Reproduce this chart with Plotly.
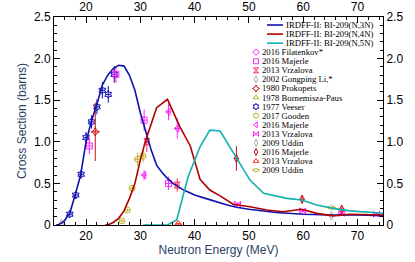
import plotly.graph_objects as go

# ---------------- evaluated curves (IRDFF-II) ----------------
e3 = [14.5, 15, 16, 17, 18, 19, 20, 21, 22, 23, 24, 25, 26, 27, 28, 29, 30, 31, 32, 33, 34, 35, 36, 38, 40, 42, 44, 46, 48, 50, 55, 60, 65, 70, 75]
s3 = [0.0, 0.005, 0.05, 0.14, 0.36, 0.60, 1.0, 1.25, 1.45, 1.68, 1.80, 1.88, 1.92, 1.91, 1.80, 1.62, 1.35, 1.12, 0.90, 0.72, 0.63, 0.56, 0.50, 0.42, 0.36, 0.32, 0.28, 0.24, 0.21, 0.19, 0.15, 0.13, 0.12, 0.12, 0.11]
e4 = [23.5, 24, 25, 26, 27, 28, 29, 30, 31, 32, 33, 35, 37.3, 39.2, 41, 42.8, 44.7, 47.1, 50.2, 53.3, 56.3, 59.7, 62.5, 65.5, 68.6, 75]
s4 = [0.0, 0.0, 0.03, 0.08, 0.17, 0.32, 0.50, 0.78, 1.02, 1.22, 1.41, 1.51, 1.18, 0.95, 0.55, 0.42, 0.35, 0.25, 0.22, 0.18, 0.16, 0.19, 0.14, 0.11, 0.13, 0.12]
e5 = [30.5, 35, 36.7, 38.8, 41, 42.8, 44.7, 47.7, 50.2, 52.7, 57, 59.7, 62.5, 65.5, 68.6, 75]
s5 = [0.0, 0.0, 0.06, 0.58, 0.94, 1.14, 1.13, 0.80, 0.54, 0.38, 0.32, 0.30, 0.24, 0.20, 0.17, 0.14]

# ---------------- experimental data ----------------
veeser_e = [17.0, 18.1, 19.1, 20.0, 21.0, 22.0, 23.0, 24.1, 25.2]
veeser_s = [0.13, 0.36, 0.61, 1.05, 1.24, 1.42, 1.62, 1.57, 1.81]
veeser_ds = [0.03, 0.04, 0.05, 0.07, 0.08, 0.09, 0.10, 0.10, 0.10]

majerle3_e = [20.6, 25.5, 30.7, 35.2]
majerle3_s = [0.95, 1.81, 1.26, 0.50]
majerle3_ds = [0.10, 0.10, 0.13, 0.08]

prokopets_e = [21.7]
prokopets_s = [1.12]
prokopets_ds = [0.35]

vrzalova3_e = [31.2, 36.8]
vrzalova3_s = [1.00, 0.48]
vrzalova3_ds = [0.12, 0.08]

gongping_e = [15.5]
gongping_s = [0.02]
gongping_ds = [0.01]

gooden_e = [26.6, 27.6, 28.5, 29.5, 30.5]
gooden_s = [0.05, 0.18, 0.44, 0.79, 0.83]
gooden_ds = [0.02, 0.02, 0.03, 0.08, 0.08]

majerle4_e = [30.7, 35.2, 36.8]
majerle4_s = [0.60, 1.36, 1.16]
majerle4_ds = [0.06, 0.10, 0.12]

vrzalova4_e = [47.9, 59.9, 67.1, 73.5]
vrzalova4_s = [0.25, 0.17, 0.14, 0.13]
vrzalova4_ds = [0.02, 0.02, 0.02, 0.02]

uddin4_e = [65.2]
uddin4_s = [0.11]

majerle5_e = [47.7, 59.8, 67.1]
majerle5_s = [0.80, 0.31, 0.19]
majerle5_ds = [0.15, 0.05, 0.03]

vrzalova5_e = [37.0]
vrzalova5_s = [0.02]

uddin5_e = [65.2]
uddin5_s = [0.21]

legend_lines = ["IRDFF-II: BI-209(N,3N)", "IRDFF-II: BI-209(N,4N)", "IRDFF-II: BI-209(N,5N)"]
legend_marks = ["2016 Filatenkov*", "2016 Majerle", "2013 Vrzalova", "2002 Gongping Li,*",
                "1980 Prokopets", "1978 Bornemisza-Paus", "1977 Veeser", "2017 Gooden",
                "2016 Majerle", "2013 Vrzalova", "2009 Uddin", "2016 Majerle",
                "2013 Vrzalova", "2009 Uddin"]

BLUE = "#1010b0"
RED = "#b00000"
CYAN = "#10b0b0"
MAG = "#ff22ff"
PINK = "#ff2255"
GRAY = "#aaaaaa"
OLIVE = "#b8b020"
PRED = "#cc1010"

mark_style = [
    ("diamond-open", MAG), ("square-open", MAG), ("hourglass-open", PINK), ("diamond-tall-open", GRAY),
    ("star-diamond-open", PRED), ("triangle-up-open", OLIVE), ("hexagram-open", BLUE), ("circle-open", OLIVE),
    ("triangle-left-open", MAG), ("bowtie-open", MAG), ("diamond-tall-open", GRAY), ("diamond-tall-open", PRED),
    ("triangle-up-open", "#ff2020"), ("diamond-wide-open", OLIVE),
]

fig = go.Figure()

XR = [14.1, 74.7]
YR = [0, 2.5]


def dataset(ex, sy, ds, sym, col, dx=0.5):
    kw = {}
    if ds is not None:
        kw["error_y"] = dict(type="data", array=ds, color=col, thickness=1, width=0)
    kw["error_x"] = dict(type="constant", value=dx, color=col, thickness=1, width=0)
    fig.add_trace(go.Scatter(x=ex, y=sy, mode="markers",
                             marker=dict(symbol=sym, color=col, size=6, line=dict(width=1, color=col)),
                             showlegend=False, **kw))


dataset(gongping_e, gongping_s, gongping_ds, "diamond-tall-open", GRAY)
dataset(veeser_e, veeser_s, veeser_ds, "hexagram-open", BLUE)
dataset(majerle3_e, majerle3_s, majerle3_ds, "square-open", MAG)
dataset(prokopets_e, prokopets_s, prokopets_ds, "star-diamond-open", PRED)
dataset(vrzalova3_e, vrzalova3_s, vrzalova3_ds, "hourglass-open", PINK)
dataset(gooden_e, gooden_s, gooden_ds, "circle-open", OLIVE)
dataset(majerle4_e, majerle4_s, majerle4_ds, "triangle-left-open", MAG)
dataset(vrzalova4_e, vrzalova4_s, vrzalova4_ds, "bowtie-open", MAG)
dataset(uddin4_e, uddin4_s, None, "diamond-tall-open", GRAY)
dataset(majerle5_e, majerle5_s, majerle5_ds, "diamond-tall-open", PRED)
dataset(vrzalova5_e, vrzalova5_s, None, "triangle-up-open", "#ff2020")
dataset(uddin5_e, uddin5_s, None, "diamond-wide-open", OLIVE)

for ex, sy, col in [(e3, s3, BLUE), (e4, s4, RED), (e5, s5, CYAN)]:
    fig.add_trace(go.Scatter(x=ex, y=sy, mode="lines", line=dict(color=col, width=1.6), showlegend=False))

# invisible traces so the top and right axes (with labels) are drawn
fig.add_trace(go.Scatter(x=XR, y=YR, xaxis="x2", yaxis="y", mode="lines",
                         line=dict(width=0), opacity=0, showlegend=False, hoverinfo="skip"))
fig.add_trace(go.Scatter(x=XR, y=YR, xaxis="x", yaxis="y2", mode="lines",
                         line=dict(width=0), opacity=0, showlegend=False, hoverinfo="skip"))

# ---------------- hand-drawn legend (positions in plot-area fractions) ----------------
L, R, T, B = 54, 383, 17, 225


def fx(px):
    return (px - L) / (R - L)


def fy(py):
    return (B - py) / (B - T)


row0, step = 25.0, 9.07
rows = [row0 + i * step for i in range(len(legend_lines) + len(legend_marks))]
LEGFONT = dict(family="Liberation Serif", size=8.7, color="black")

annotations = []
shapes = []
for i, (txt, col) in enumerate(zip(legend_lines, [BLUE, RED, CYAN])):
    y = fy(rows[i])
    shapes.append(dict(type="line", xref="x domain", yref="y domain", x0=fx(267), x1=fx(283), y0=y, y1=y,
                       line=dict(color=col, width=1.6)))
    annotations.append(dict(xref="x domain", yref="y domain", x=fx(285), y=y, text=txt, showarrow=False,
                            xanchor="left", yanchor="middle", borderpad=0, font=LEGFONT))

mx, my, ms, mc = [], [], [], []
for j, txt in enumerate(legend_marks):
    y = fy(rows[3 + j])
    mx.append(XR[0] + fx(256) * (XR[1] - XR[0]))
    my.append(YR[0] + y * (YR[1] - YR[0]))
    ms.append(mark_style[j][0])
    mc.append(mark_style[j][1])
    annotations.append(dict(xref="x domain", yref="y domain", x=fx(261), y=y, text=txt, showarrow=False,
                            xanchor="left", yanchor="middle", borderpad=0, font=LEGFONT))

fig.add_trace(go.Scatter(x=mx, y=my, mode="markers",
                         marker=dict(symbol=ms, color=mc, size=5, line=dict(width=1, color=mc)),
                         showlegend=False, hoverinfo="skip"))

tickfont = dict(family="Liberation Sans", size=12, color="black")
common = dict(showgrid=False, zeroline=False, showline=True, linecolor="black", linewidth=1,
              ticks="inside", tickcolor="black", ticklen=6, tickfont=tickfont, automargin=False)
xminor = dict(ticks="inside", dtick=2, ticklen=3, tickcolor="black")
yminor = dict(ticks="inside", dtick=0.1, ticklen=3, tickcolor="black")
ylin = dict(tickmode="linear", tick0=0, dtick=0.5, tickformat=".1f", labelalias={"0.0": "0"})

fig.update_layout(
    width=415, height=262,
    margin=dict(l=L, r=415 - R, t=T, b=262 - B, autoexpand=False),
    paper_bgcolor="white", plot_bgcolor="white",
    showlegend=False,
    xaxis=dict(range=XR, dtick=10, tick0=0, minor=xminor,
               title=dict(text="Neutron Energy (MeV)", font=dict(family="Liberation Sans", size=12), standoff=3),
               **common),
    xaxis2=dict(range=XR, dtick=10, tick0=0, overlaying="x", side="top", anchor="y", minor=xminor, **common),
    yaxis=dict(range=YR, minor=yminor,
               title=dict(text="Cross Section (barns)", font=dict(family="Liberation Sans", size=12), standoff=4),
               **ylin, **common),
    yaxis2=dict(range=YR, overlaying="y", side="right", anchor="x", minor=yminor, **ylin, **common),
    annotations=annotations,
    shapes=shapes,
)

fig.write_html("out.html", config={"displayModeBar": False, "staticPlot": True},
               post_script="document.body.style.margin='0';document.body.style.padding='0';"
                           "document.documentElement.style.overflow='hidden';")
